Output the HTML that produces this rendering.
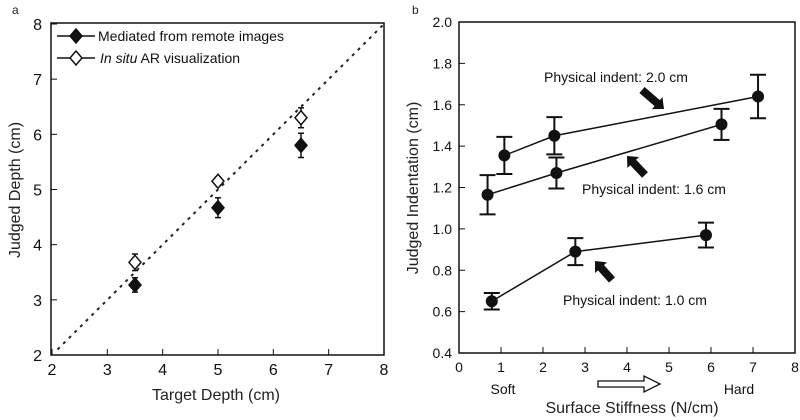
<!DOCTYPE html>
<html><head><meta charset="utf-8"><style>
html,body{margin:0;padding:0;background:#fff}
svg{display:block;font-family:"Liberation Sans",sans-serif}
</style></head><body>
<svg id="c" width="800" height="420" viewBox="0 0 800 420"></svg>
<script>
// Panel a data
const aX=[3.5,5,6.5];
const aMed=[3.27,4.67,5.8];
const aMedErr=[0.13,0.18,0.22];
const aIns=[3.68,5.15,6.3];
const aInsErr=[0.15,0.08,0.18];
const aTicks=[2,3,4,5,6,7,8];
// Panel b data
const bX20=[1.08,2.27,7.12], bY20=[1.355,1.45,1.64], bE20=[0.09,0.09,0.105];
const bX16=[0.68,2.32,6.25], bY16=[1.165,1.27,1.505], bE16=[0.095,0.075,0.075];
const bX10=[0.78,2.77,5.88], bY10=[0.65,0.89,0.97], bE10=[0.04,0.065,0.06];
const bXTicks=[0,1,2,3,4,5,6,7,8];
const bYTicks=[0.4,0.6,0.8,1.0,1.2,1.4,1.6,1.8,2.0];

const svg=document.getElementById('c');
const NS='http://www.w3.org/2000/svg';
function mk(tag,at,parent){const e=document.createElementNS(NS,tag);for(const k in at)e.setAttribute(k,at[k]);(parent||svg).appendChild(e);return e;}
function txt(s,at,parent){const e=mk('text',at,parent);e.textContent=s;return e;}

// ---- Panel a ----
const ax=v=>52+(v-2)*(384-52)/6, ay=v=>355-(v-2)*(355-24)/6;
const ga=mk('g',{});


txt('a',{x:12,y:14,'font-size':12,fill:'#222'},ga);
const fa=mk('rect',{x:51,y:23,width:333,height:332,fill:'none',stroke:'#111','stroke-width':1.5},ga);


aTicks.forEach(t=>{
  mk('line',{x1:ax(t),x2:ax(t),y1:355,y2:349,stroke:'#111'},ga);
  mk('line',{x1:51,x2:57,y1:ay(t),y2:ay(t),stroke:'#111'},ga);
  const xl=txt(String(t),{x:ax(t),y:375,'font-size':16,'text-anchor':'middle',fill:'#111'},ga);
  
  
  const yl=txt(String(t),{x:42,y:ay(t)+6,'font-size':16,'text-anchor':'end',fill:'#111'},ga);
  
  
});
const xt=txt('Target Depth (cm)',{x:216,y:400,'font-size':16,'text-anchor':'middle',fill:'#222'},ga);


const yt=txt('Judged Depth (cm)',{x:0,y:0,'font-size':16,'text-anchor':'middle',fill:'#222',transform:'translate(20,190) rotate(-90)'},ga);


const dl=mk('line',{x1:ax(2.1),y1:ay(2.1),x2:ax(8),y2:ay(8),stroke:'#222','stroke-width':2,'stroke-dasharray':'3,5'},ga);


function diamond(cx,cy,filled,p){return mk('path',{d:`M${cx},${cy-7}L${cx+6},${cy}L${cx},${cy+7}L${cx-6},${cy}Z`,fill:filled?'#111':'#fff',stroke:'#111','stroke-width':1.5},p);}
function err(x,y1,y2,w,p,sw){mk('line',{x1:x,x2:x,y1:y1,y2:y2,stroke:'#111','stroke-width':sw||1.5},p);mk('line',{x1:x-w,x2:x+w,y1:y1,y2:y1,stroke:'#111','stroke-width':sw||1.5},p);mk('line',{x1:x-w,x2:x+w,y1:y2,y2:y2,stroke:'#111','stroke-width':sw||1.5},p);}
aX.forEach((x,i)=>{
  const g=mk('g',{},ga);
  
  
  err(ax(x),ay(aMed[i]+aMedErr[i]),ay(aMed[i]-aMedErr[i]),3,g);
  diamond(ax(x),ay(aMed[i]),true,g);
  const h=mk('g',{},ga);
  
  
  err(ax(x),ay(aIns[i]+aInsErr[i]),ay(aIns[i]-aInsErr[i]),3,h);
  diamond(ax(x),ay(aIns[i]),false,h);
});
const lg=mk('g',{},ga);


mk('line',{x1:57,x2:95,y1:36,y2:36,stroke:'#111','stroke-width':1.5},lg);
diamond(76,36,true,lg);
txt('Mediated from remote images',{x:98,y:41,'font-size':14,fill:'#111'},lg);
mk('line',{x1:57,x2:95,y1:58,y2:58,stroke:'#111','stroke-width':1.5},lg);
diamond(76,58,false,lg);
const t2=txt('',{x:100,y:63,'font-size':14,fill:'#111'},lg);
const it=document.createElementNS(NS,'tspan');it.setAttribute('font-style','italic');it.textContent='In situ';t2.appendChild(it);
const rs=document.createElementNS(NS,'tspan');rs.textContent=' AR visualization';t2.appendChild(rs);

// ---- Panel b ----
const bx=v=>459+v*(795-459)/8, by=v=>353-(v-0.4)*(353-22)/1.6;
const gb=mk('g',{});


txt('b',{x:412,y:14,'font-size':12,fill:'#222'},gb);
const fb=mk('rect',{x:459,y:22,width:336,height:331,fill:'none',stroke:'#111','stroke-width':1.5},gb);


bXTicks.forEach(t=>{
  mk('line',{x1:bx(t),x2:bx(t),y1:353,y2:347,stroke:'#111'},gb);
  const l=txt(String(t),{x:bx(t),y:372,'font-size':14,'text-anchor':'middle',fill:'#111'},gb);
  
  
});
bYTicks.forEach(t=>{
  mk('line',{x1:459,x2:465,y1:by(t),y2:by(t),stroke:'#111'},gb);
  const l=txt(t.toFixed(1),{x:452,y:by(t)+5,'font-size':14,'text-anchor':'end',fill:'#111'},gb);
  
  
});
const bxt=txt('Surface Stiffness (N/cm)',{x:632,y:413,'font-size':16,'text-anchor':'middle',fill:'#222'},gb);


const byt=txt('Judged Indentation (cm)',{x:0,y:0,'font-size':16,'text-anchor':'middle',fill:'#222',transform:'translate(418,188) rotate(-90)'},gb);


txt('Soft',{x:503,y:394,'font-size':14,'text-anchor':'middle',fill:'#111'},gb);
txt('Hard',{x:739,y:394,'font-size':14,'text-anchor':'middle',fill:'#111'},gb);
const ha=mk('path',{d:'M598,381L644,381L644,376L660,384L644,392L644,387L598,387Z',fill:'#fff',stroke:'#111','stroke-width':1.3},gb);


function series(X,Y,E,name){
  const g=mk('g',{},gb);
  
  
  mk('polyline',{points:X.map((x,i)=>bx(x)+','+by(Y[i])).join(' '),fill:'none',stroke:'#111','stroke-width':1.5},g);
  X.forEach((x,i)=>{
    err(bx(x),by(Y[i]+E[i]),by(Y[i]-E[i]),8,g,2);
    mk('circle',{cx:bx(x),cy:by(Y[i]),r:6,fill:'#111'},g);
  });
}
series(bX20,bY20,bE20,'series-indent-2-0');
series(bX16,bY16,bE16,'series-indent-1-6');
series(bX10,bY10,bE10,'series-indent-1-0');
function arrow(x1,y1,x2,y2,name){
  const a=Math.atan2(y2-y1,x2-x1),L=Math.hypot(x2-x1,y2-y1);
  const p=mk('path',{d:`M0,-4L${L-9},-4L${L-9},-8L${L},0L${L-9},8L${L-9},4L0,4Z`,fill:'#111',transform:`translate(${x1},${y1}) rotate(${a*180/Math.PI})`},gb);
  
  
}
arrow(642,90,664,109,'arrow-2-0');
arrow(645,175,627,156,'arrow-1-6');
arrow(612,280,595,261,'arrow-1-0');
const l1=txt('Physical indent: 2.0 cm',{x:544,y:82,'font-size':14,fill:'#111'},gb);

const l2=txt('Physical indent: 1.6 cm',{x:582,y:194,'font-size':14,fill:'#111'},gb);

const l3=txt('Physical indent: 1.0 cm',{x:563,y:305,'font-size':14,fill:'#111'},gb);

</script>
</body></html>
